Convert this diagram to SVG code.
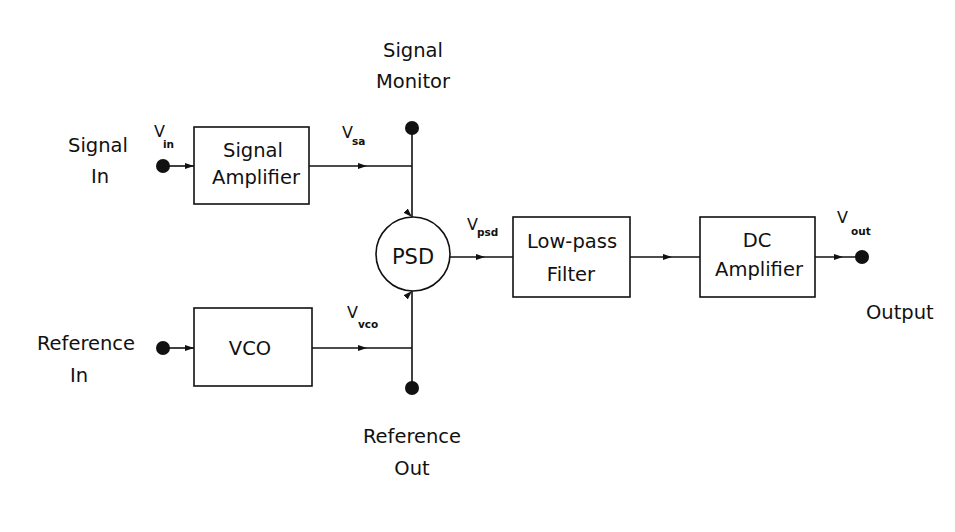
<svg xmlns="http://www.w3.org/2000/svg" width="955" height="532" viewBox="0 0 955 532">
<style>
  .bg{fill:#fff}
  .box{fill:#fff;stroke:#111;stroke-width:1.6}
  .wire{fill:none;stroke:#111;stroke-width:1.6;marker-mid:url(#ah)}
  .plain{fill:none;stroke:#111;stroke-width:1.6}
  .dot{fill:#111}
  text{font-family:"DejaVu Sans","Liberation Sans",sans-serif;fill:#111}
  .lbl{font-size:19.5px}
  .mid{text-anchor:middle}
  .v{font-size:16px}
  .sub{font-size:10.5px;font-weight:bold}
</style>
<defs>
  <marker id="ah" markerUnits="userSpaceOnUse" markerWidth="10" markerHeight="8" refX="9" refY="3.5" orient="auto">
    <path d="M0,0.5 L9,3.5 L0,6.5 z" fill="#111"/>
  </marker>
</defs>
<rect class="bg" x="0" y="0" width="955" height="532"/>

<g id="connectors">
  <path class="wire" d="M163,166 L194,166 L194,166"/>
  <path class="wire" d="M309,166 L367,166 L412,166"/>
  <path class="wire" d="M412,128 L412,217 L412,217"/>
  <path class="wire" d="M163,348 L194,348 L194,348"/>
  <path class="wire" d="M312,348 L367,348 L412,348"/>
  <path class="wire" d="M412,388 L412,291 L412,291"/>
  <path class="wire" d="M449,257 L485,257 L513,257"/>
  <path class="wire" d="M630,257 L672,257 L700,257"/>
  <path class="wire" d="M815,257 L843,257 L862,257"/>
</g>

<g id="signal-in">
  <circle class="dot" cx="163" cy="166" r="7"/>
  <text class="lbl mid" x="98" y="152">Signal</text>
  <text class="lbl mid" x="100" y="183">In</text>
  <text class="v" x="154" y="137">V</text>
  <text class="sub" x="163" y="148">in</text>
</g>

<g id="signal-amplifier">
  <rect class="box" x="194" y="127" width="115" height="77"/>
  <text class="lbl mid" x="253" y="157">Signal</text>
  <text class="lbl mid" x="256" y="184">Amplifier</text>
</g>

<g id="vsa-label">
  <text class="v" x="342" y="138">V</text>
  <text class="sub" x="352" y="145">sa</text>
</g>

<g id="signal-monitor">
  <circle class="dot" cx="412" cy="128" r="7"/>
  <text class="lbl mid" x="413" y="57">Signal</text>
  <text class="lbl mid" x="413" y="88">Monitor</text>
</g>

<g id="psd">
  <circle class="box" cx="413" cy="254" r="37"/>
  <text class="mid" x="413" y="264" style="font-size:21px">PSD</text>
</g>

<g id="vpsd-label">
  <text class="v" x="467" y="230">V</text>
  <text class="sub" x="477" y="236">psd</text>
</g>

<g id="reference-in">
  <circle class="dot" cx="163" cy="348" r="7"/>
  <text class="lbl mid" x="86" y="350">Reference</text>
  <text class="lbl mid" x="79" y="382">In</text>
</g>

<g id="vco">
  <rect class="box" x="194" y="308" width="118" height="78"/>
  <text class="lbl mid" x="250" y="355">VCO</text>
</g>

<g id="vvco-label">
  <text class="v" x="347" y="318">V</text>
  <text class="sub" x="358" y="328">vco</text>
</g>

<g id="reference-out">
  <circle class="dot" cx="412" cy="388" r="7"/>
  <text class="lbl mid" x="412" y="443">Reference</text>
  <text class="lbl mid" x="412" y="475">Out</text>
</g>

<g id="low-pass-filter">
  <rect class="box" x="513" y="217" width="117" height="80"/>
  <text class="lbl mid" x="572" y="248">Low-pass</text>
  <text class="lbl mid" x="571" y="281">Filter</text>
</g>

<g id="dc-amplifier">
  <rect class="box" x="700" y="217" width="115" height="80"/>
  <text class="lbl mid" x="757" y="247">DC</text>
  <text class="lbl mid" x="759" y="276">Amplifier</text>
</g>

<g id="output">
  <circle class="dot" cx="862" cy="257" r="7"/>
  <text class="v" x="837" y="223">V</text>
  <text class="sub" x="851" y="235">out</text>
  <text class="lbl" x="866" y="319">Output</text>
</g>
</svg>
